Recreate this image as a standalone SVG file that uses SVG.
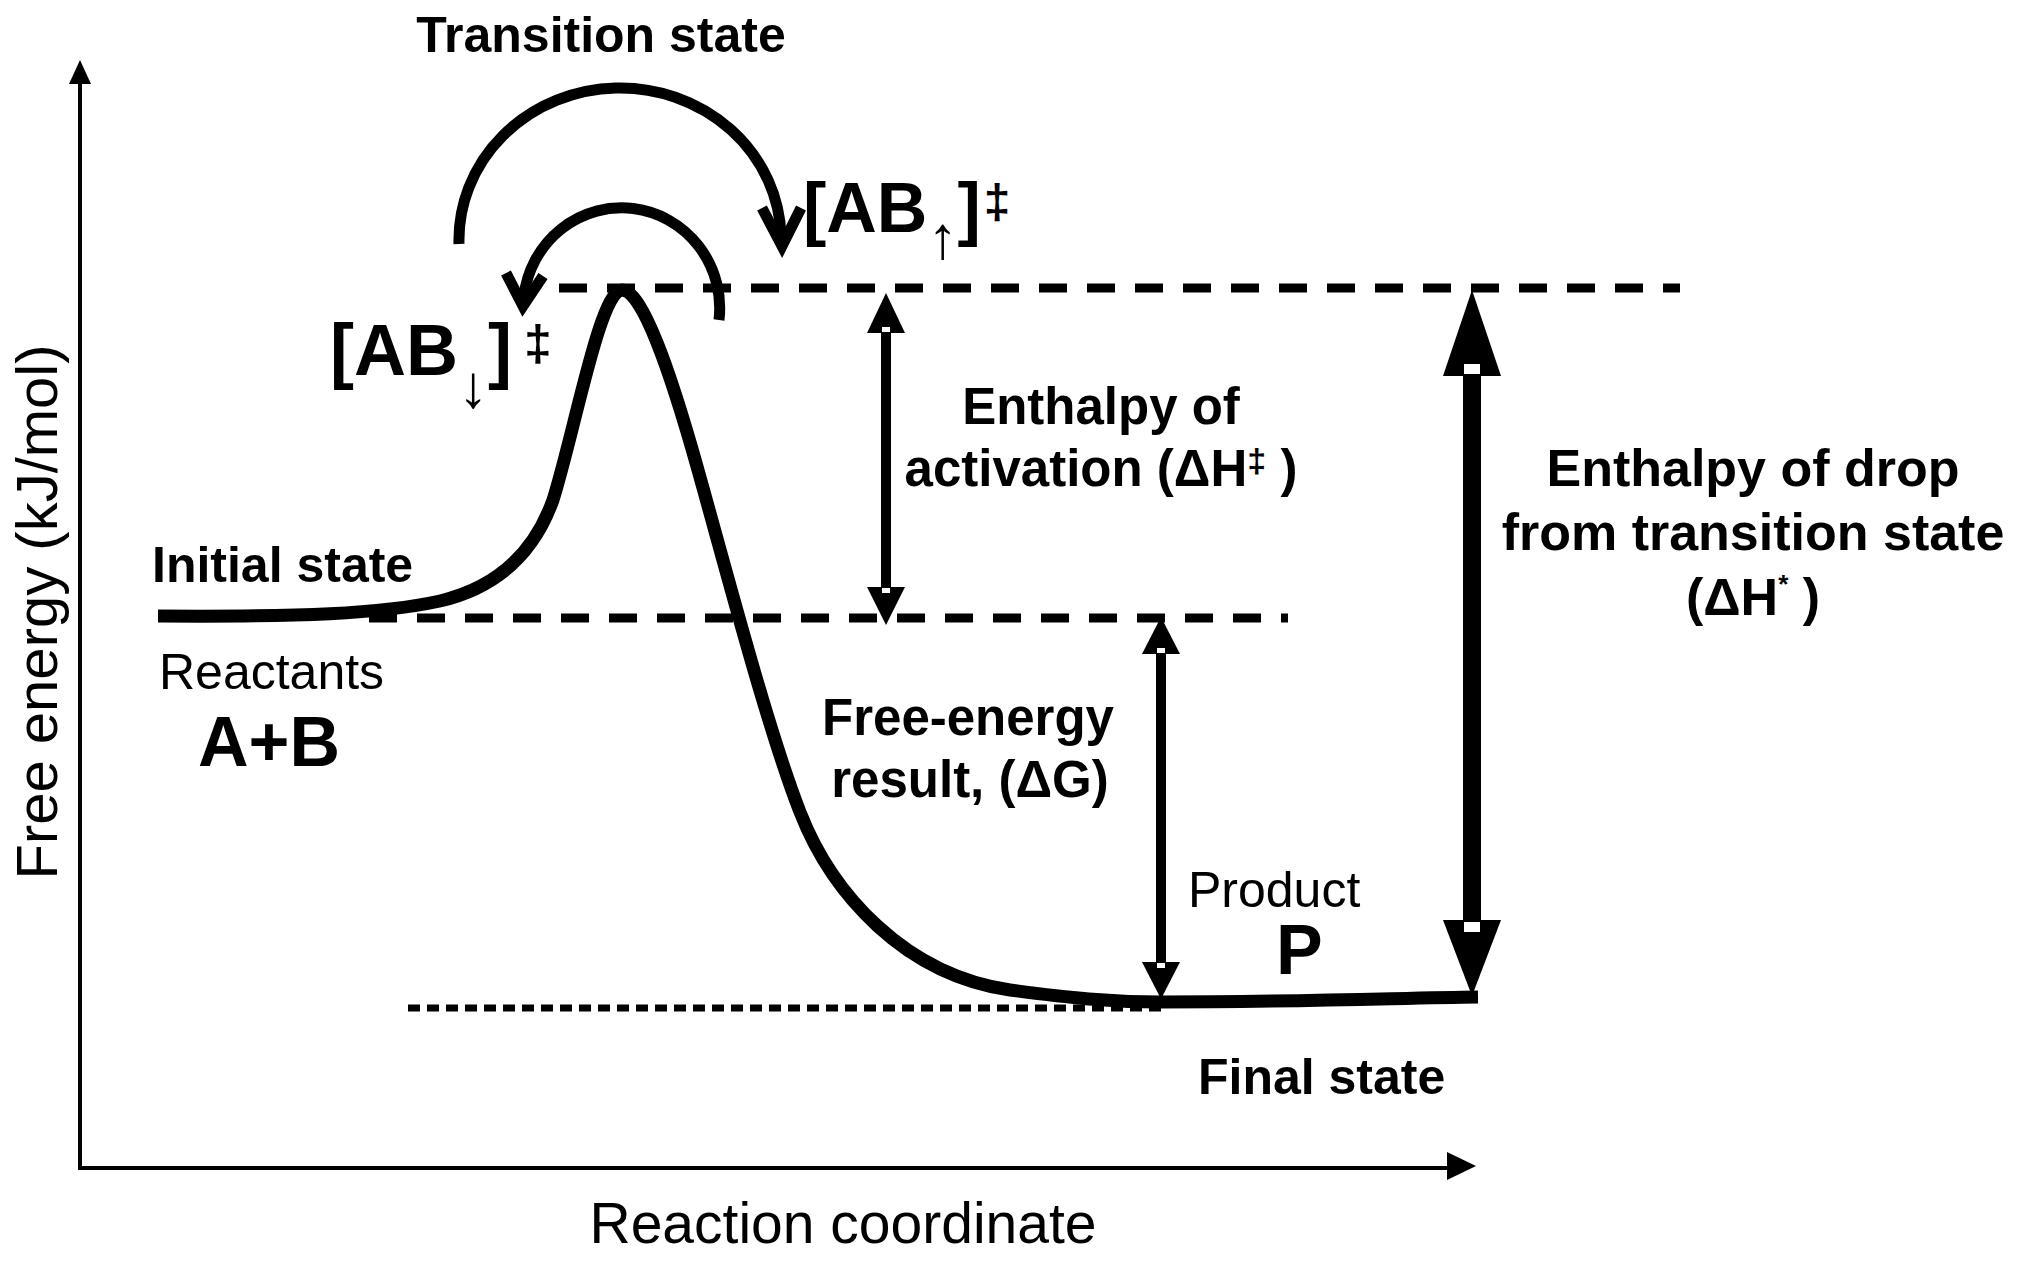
<svg xmlns="http://www.w3.org/2000/svg" width="2031" height="1263" viewBox="0 0 2031 1263">
<style>
text { font-family: "Liberation Sans", Arial, sans-serif; fill: #000; }
.b { font-weight: bold; }
.arr { font-weight: normal; }
.dash { stroke: #000; stroke-width: 9; stroke-dasharray: 28 20; fill: none; }
.dot { stroke: #000; stroke-width: 7; stroke-dasharray: 12 7; fill: none; }
.arc { stroke: #000; stroke-width: 11; fill: none; }
.chev { stroke: #000; stroke-width: 11; fill: none; stroke-linejoin: miter; }
.curve { stroke: #000; stroke-width: 13; fill: none; }
.axis { stroke: #000; stroke-width: 4; fill: none; }
.notch { fill: #fff; }
</style>
<rect width="2031" height="1263" fill="#fff"/>

<g id="connectors">
  <!-- axes -->
  <line class="axis" x1="80" y1="1170" x2="80" y2="78"/>
  <polygon points="80,60 69,84 91,84"/>
  <line class="axis" x1="78" y1="1168" x2="1452" y2="1168"/>
  <polygon points="1476,1166 1447,1152 1447,1180"/>

  <!-- reference levels -->
  <line class="dash" x1="559" y1="288" x2="1680" y2="288"/>
  <line class="dash" x1="369" y1="618" x2="1288" y2="618"/>
  <line class="dot" x1="408" y1="1008" x2="1165" y2="1008"/>

  <!-- energy profile -->
  <path class="curve" d="M158,616 C300,617 380,614 440,601 C495,588 533,556 553,500 C575,430 600,290 622,290 C642,290 670,370 698,470 C728,577 768,730 800,812 C832,894 905,975 1010,990 C1070,998 1110,1002 1160,1002 C1300,1002 1400,998 1478,997"/>

  <!-- transition arcs -->
  <path class="arc" d="M459,244 A161,152 0 0 1 781,236"/>
  <polyline class="chev" points="762,208 782,246 801,208"/>
  <path class="arc" d="M719,320 A98,100 0 0 0 524,296"/>
  <polyline class="chev" points="506,273 523,306 543,276"/>

  <!-- activation double arrow -->
  <g id="arrow-activation">
    <rect x="881" y="329" width="10" height="260"/>
    <polygon points="886,293 867,333 905,333"/>
    <polygon points="886,625 867,587 905,587"/>
    <rect class="notch" x="882" y="327" width="8" height="5"/>
    <rect class="notch" x="882" y="588" width="8" height="5"/>
  </g>
  <!-- free energy double arrow -->
  <g id="arrow-dg">
    <rect x="1156" y="650" width="10" height="316"/>
    <polygon points="1161,617 1142,654 1180,654"/>
    <polygon points="1161,999 1142,962 1180,962"/>
    <rect class="notch" x="1157" y="648" width="8" height="5"/>
    <rect class="notch" x="1157" y="963" width="8" height="5"/>
  </g>
  <!-- drop double arrow -->
  <g id="arrow-drop">
    <rect x="1463" y="370" width="18" height="556"/>
    <polygon points="1472,290 1443,376 1501,376"/>
    <polygon points="1472,996 1443,920 1501,920"/>
    <rect class="notch" x="1464" y="364" width="16" height="10"/>
    <rect class="notch" x="1464" y="922" width="16" height="10"/>
  </g>
</g>

<g id="axis-y-label">
  <text transform="translate(57,612) rotate(-90)" text-anchor="middle" font-size="58">Free energy (kJ/mol)</text>
</g>
<g id="axis-x-label">
  <text x="843" y="1243" text-anchor="middle" font-size="57">Reaction coordinate</text>
</g>

<g id="transition-state">
  <text class="b" x="601" y="52" text-anchor="middle" font-size="50">Transition state</text>
</g>
<g id="ab-up">
  <text class="b" x="803" y="232" font-size="70">[AB<tspan class="arr" font-size="60" dy="26">↑</tspan><tspan dy="-26">]</tspan><tspan font-size="48" dx="3" dy="-14">‡</tspan></text>
</g>
<g id="ab-down">
  <text class="b" x="330" y="375" font-size="72">[AB<tspan class="arr" font-size="60" dy="32">↓</tspan><tspan dy="-32">]</tspan><tspan font-size="50" dx="12" dy="-15">‡</tspan></text>
</g>
<g id="initial-state">
  <text class="b" x="152" y="582" font-size="50">Initial state</text>
  <text x="159" y="689" font-size="50">Reactants</text>
  <text class="b" x="198" y="766" font-size="70">A+B</text>
</g>
<g id="activation-label">
  <text class="b" x="1101" y="424" text-anchor="middle" font-size="51">Enthalpy of</text>
  <text class="b" x="1101" y="486" text-anchor="middle" font-size="51">activation (ΔH<tspan font-size="34" dy="-14">‡</tspan><tspan dy="14"> )</tspan></text>
</g>
<g id="free-energy-label">
  <text class="b" x="968" y="735" text-anchor="middle" font-size="51">Free-energy</text>
  <text class="b" x="970" y="797" text-anchor="middle" font-size="51">result, (ΔG)</text>
</g>
<g id="final-state">
  <text x="1188" y="907" font-size="50">Product</text>
  <text class="b" x="1276" y="974" font-size="70">P</text>
  <text class="b" x="1198" y="1094" font-size="50">Final state</text>
</g>
<g id="drop-label">
  <text class="b" x="1753" y="486" text-anchor="middle" font-size="52">Enthalpy of drop</text>
  <text class="b" x="1753" y="550" text-anchor="middle" font-size="52">from transition state</text>
  <text class="b" x="1753" y="615" text-anchor="middle" font-size="52">(ΔH<tspan font-size="26" dy="-22">*</tspan><tspan dy="22"> )</tspan></text>
</g>
</svg>
